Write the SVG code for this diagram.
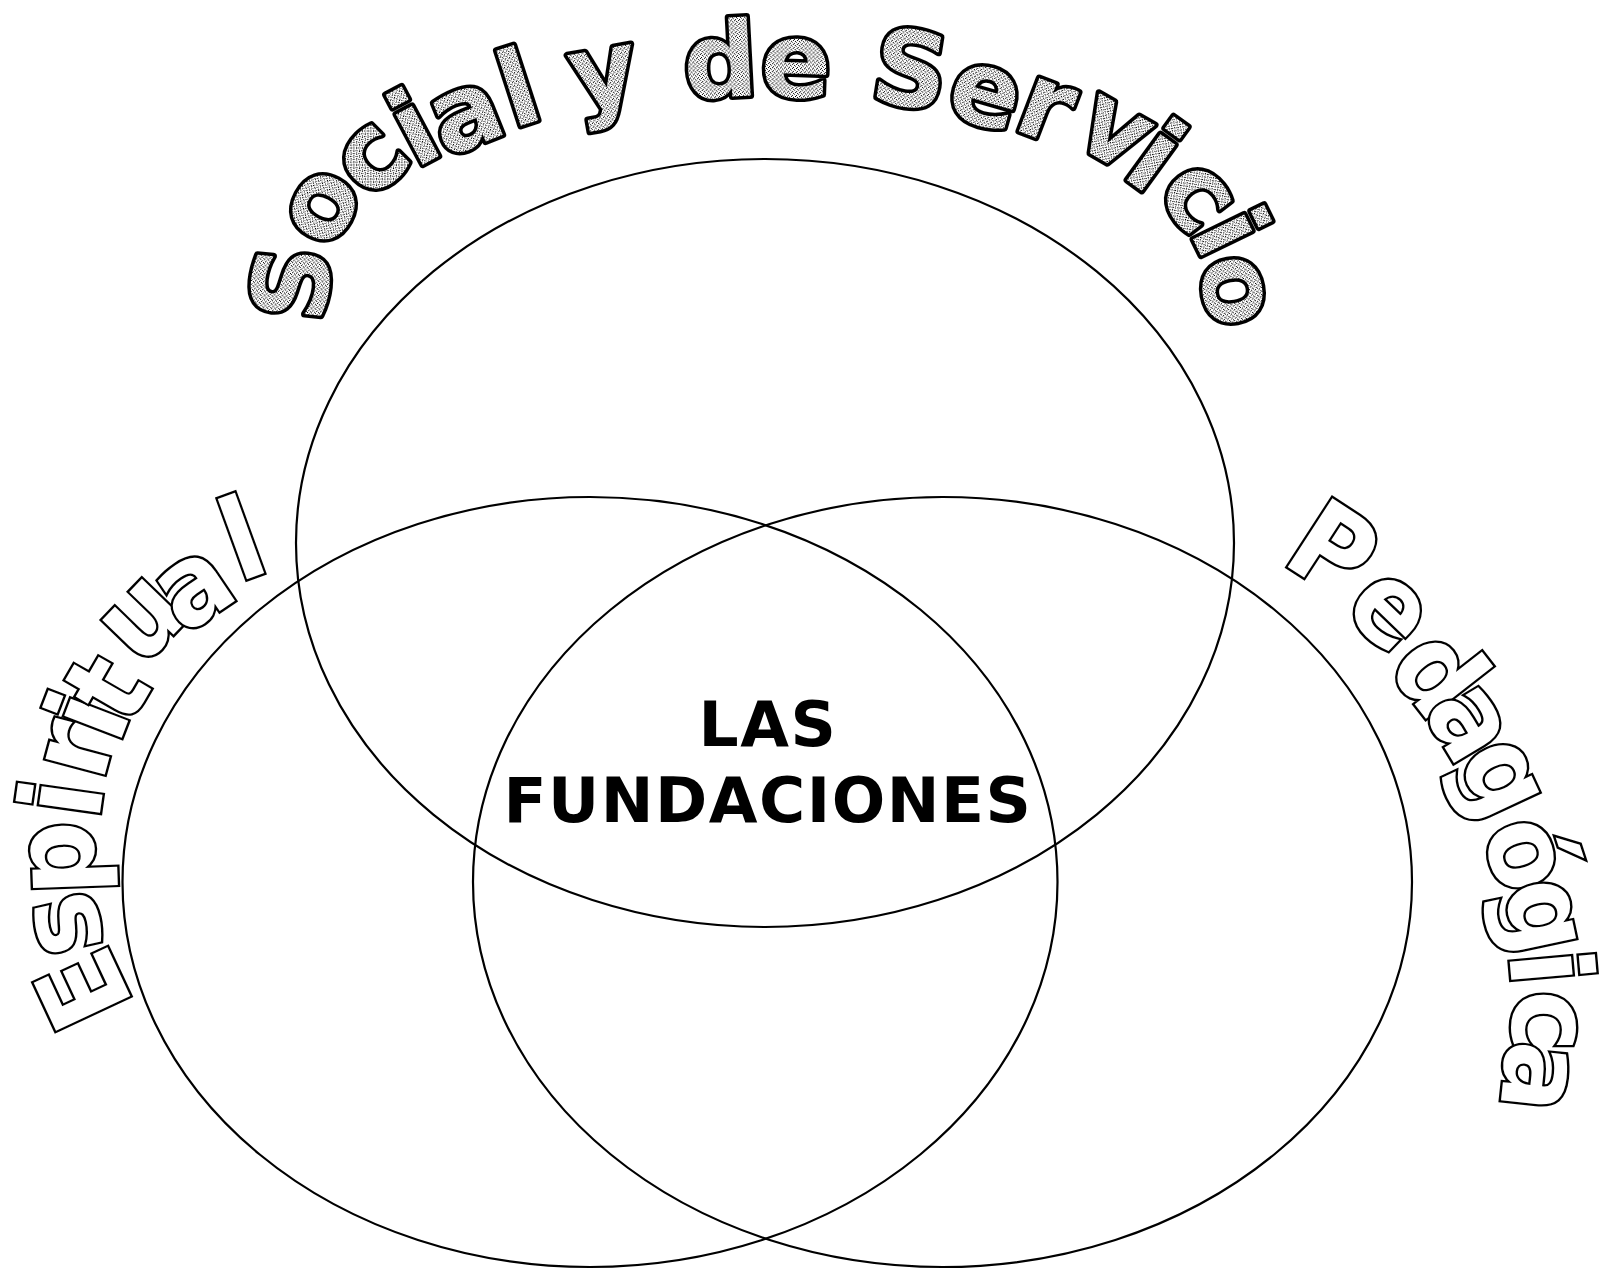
<svg xmlns="http://www.w3.org/2000/svg" width="1602" height="1271" viewBox="0 0 1602 1271">
  <defs>
    <pattern id="stipple" width="4" height="4" patternUnits="userSpaceOnUse">
      <rect width="4" height="4" fill="#fff"/>
      <rect x="0" y="0" width="1" height="1" fill="#000"/>
      <rect x="2" y="1" width="1" height="1" fill="#000"/>
      <rect x="1" y="3" width="1" height="1" fill="#000"/>
      <rect x="3" y="2" width="1" height="1" fill="#555"/>
    </pattern>
  </defs>
  <style>
    .ring { fill: none; stroke: #000; stroke-width: 2.2; }
    .arc-top { font-family: "DejaVu Sans", Verdana, sans-serif; font-weight: bold; font-size: 104px; fill: url(#stipple); stroke: #000; stroke-width: 7; stroke-linejoin: round; paint-order: stroke; text-anchor: middle; }
    .arc-side { font-family: "DejaVu Sans", Verdana, sans-serif; font-weight: bold; font-size: 104px; fill: #fff; stroke: #000; stroke-width: 4.5; stroke-linejoin: miter; paint-order: stroke; text-anchor: middle; }
    .center { font-family: "DejaVu Sans", Verdana, sans-serif; font-weight: bold; font-size: 63px; fill: #000; text-anchor: middle; letter-spacing: 1.5px; }
  </style>
  <rect width="1602" height="1271" fill="#fff"/>

  <g id="connectors"></g>

  <g id="ellipse-top">
    <ellipse class="ring" cx="765" cy="543" rx="469" ry="384"/>
  </g>
  <g id="ellipse-left">
    <ellipse class="ring" cx="590" cy="882" rx="467.5" ry="385"/>
  </g>
  <g id="ellipse-right">
    <ellipse class="ring" cx="942.5" cy="882" rx="469.5" ry="385"/>
  </g>

  <g id="label-social">
    <text class="arc-top" transform="translate(290 283) rotate(-84)" y="38">S</text>
    <text class="arc-top" transform="translate(323 207) rotate(-62)" y="29">o</text>
    <text class="arc-top" transform="translate(373 160) rotate(-45)" y="29">c</text>
    <text class="arc-top" transform="translate(412 125) rotate(-28)" y="40">i</text>
    <text class="arc-top" transform="translate(467 118) rotate(-22)" y="29">a</text>
    <text class="arc-top" transform="translate(517 85) rotate(-18)" y="40">l</text>
    <text class="arc-top" transform="translate(606 88) rotate(-10)" y="18">y</text>
    <text class="arc-top" transform="translate(720 57) rotate(-3)" y="40">d</text>
    <text class="arc-top" transform="translate(796 68) rotate(2)" y="29">e</text>
    <text class="arc-top" transform="translate(911 68) rotate(9)" y="38">S</text>
    <text class="arc-top" transform="translate(985 96) rotate(16)" y="29">e</text>
    <text class="arc-top" transform="translate(1045 110) rotate(21)" y="29">r</text>
    <text class="arc-top" transform="translate(1113 133) rotate(30)" y="29">v</text>
    <text class="arc-top" transform="translate(1158 153) rotate(36)" y="40">i</text>
    <text class="arc-top" transform="translate(1196 198) rotate(52)" y="29">c</text>
    <text class="arc-top" transform="translate(1233 230) rotate(64)" y="40">i</text>
    <text class="arc-top" transform="translate(1233 291) rotate(80)" y="29">o</text>
  </g>

  <g id="label-espiritual">
    <text class="arc-side" transform="translate(82 990) rotate(-115) scale(1 1.08)" y="38">E</text>
    <text class="arc-side" transform="translate(67 924) rotate(-103) scale(1 1.08)" y="29">s</text>
    <text class="arc-side" transform="translate(74 858) rotate(-92) scale(1 1.08)" y="18">p</text>
    <text class="arc-side" transform="translate(59 798) rotate(-82) scale(1 1.08)" y="39.5">i</text>
    <text class="arc-side" transform="translate(79 750) rotate(-75) scale(1 1.08)" y="29">r</text>
    <text class="arc-side" transform="translate(85 714) rotate(-69) scale(1 1.08)" y="39.5">i</text>
    <text class="arc-side" transform="translate(108 688) rotate(-60) scale(1 1.08)" y="35">t</text>
    <text class="arc-side" transform="translate(144 620) rotate(-46) scale(1 1.08)" y="29">u</text>
    <text class="arc-side" transform="translate(195 590) rotate(-34) scale(1 1.08)" y="29">a</text>
    <text class="arc-side" transform="translate(241 536) rotate(-20) scale(1 1.08)" y="39.5">l</text>
  </g>

  <g id="label-pedagogica">
    <text class="arc-side" transform="translate(1334 548) rotate(33) scale(1 1.08)" y="38">P</text>
    <text class="arc-side" transform="translate(1388 612) rotate(44) scale(1 1.08)" y="29">e</text>
    <text class="arc-side" transform="translate(1442 670) rotate(52) scale(1 1.08)" y="39.5">d</text>
    <text class="arc-side" transform="translate(1467 724) rotate(59) scale(1 1.08)" y="29">a</text>
    <text class="arc-side" transform="translate(1489 784) rotate(65) scale(1 1.08)" y="18">g</text>
    <text class="arc-side" transform="translate(1534 851) rotate(72) scale(1 1.08)" y="41">ó</text>
    <text class="arc-side" transform="translate(1529 919) rotate(78) scale(1 1.08)" y="18">g</text>
    <text class="arc-side" transform="translate(1553 967) rotate(85) scale(1 1.08)" y="39.5">i</text>
    <text class="arc-side" transform="translate(1544 1021) rotate(90) scale(1 1.08)" y="29">c</text>
    <text class="arc-side" transform="translate(1535 1077) rotate(96) scale(1 1.08)" y="29">a</text>
  </g>

  <g id="label-center">
    <text class="center" x="768" y="746">LAS</text>
    <text class="center" x="768" y="822">FUNDACIONES</text>
  </g>
</svg>
